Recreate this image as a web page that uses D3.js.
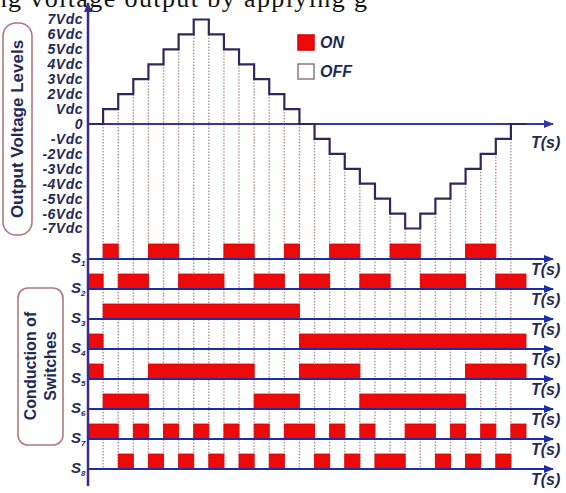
<!DOCTYPE html>
<html>
<head>
<meta charset="utf-8">
<script src="https://cdn.jsdelivr.net/npm/d3@7"></script>
<style>
  body { margin: 0; background: #fff; }
  svg { display: block; }
  text { font-family: "Liberation Sans", Arial, sans-serif; }
</style>
</head>
<body>
<svg id="chart" width="566" height="493"></svg>
<script>
//
// Data
//

// output level (in Vdc) for each of the 29 time slots
var levels = [0, 1, 2, 3, 4, 5, 6, 7, 6, 5, 4, 3, 2, 1, 0,
  -1, -2, -3, -4, -5, -6, -7, -6, -5, -4, -3, -2, -1, 0];

var voltageTicks = [7, 6, 5, 4, 3, 2, 1, 0, -1, -2, -3, -4, -5, -6, -7];
var voltageLabels = ["7Vdc", "6Vdc", "5Vdc", "4Vdc", "3Vdc", "2Vdc", "Vdc", "0",
  "-Vdc", "-2Vdc", "-3Vdc", "-4Vdc", "-5Vdc", "-6Vdc", "-7Vdc"];

var switchNames = ["1", "2", "3", "4", "5", "6", "7", "8"];

// 1 = ON, 0 = OFF, one entry per time slot
var s1 = [0,1,0,0,1,1,0,0,0,1,1,0,0,1,0,0,1,1,0,0,1,1,0,0,0,1,1,0,0];
var s2 = [1,0,1,1,0,0,1,1,1,0,0,1,1,0,1,1,0,0,1,1,0,0,1,1,1,0,0,1,1];
var s3 = [0,1,1,1,1,1,1,1,1,1,1,1,1,1,0,0,0,0,0,0,0,0,0,0,0,0,0,0,0];
var s4 = [1,0,0,0,0,0,0,0,0,0,0,0,0,0,1,1,1,1,1,1,1,1,1,1,1,1,1,1,1];
var s5 = [1,0,0,0,1,1,1,1,1,1,1,0,0,0,1,1,1,1,0,0,0,0,0,0,0,1,1,1,1];
var s6 = [0,1,1,1,0,0,0,0,0,0,0,1,1,1,0,0,0,0,1,1,1,1,1,1,1,0,0,0,0];
var s7 = [1,1,0,1,0,1,0,1,0,1,0,1,0,1,1,0,1,0,1,0,0,1,1,0,1,0,1,0,1];
var s8 = [0,0,1,0,1,0,1,0,1,0,1,0,1,0,0,1,0,1,0,1,1,0,0,1,0,1,0,1,0];
var switches = [s1, s2, s3, s4, s5, s6, s7, s8];

var legendItems = ["ON", "OFF"];

//
// Scales
//

var navy = "#1f2a55";
var svg = d3.select("#chart");

var x = d3.scaleLinear().domain([0, levels.length]).range([88, 526]);
var yV = d3.scaleLinear().domain([-7, 7]).range([228.5, 19.5]);
var row = d3.scaleLinear().domain([0, switches.length - 1]).range([259, 469]);
var pulseH = (row(1) - row(0)) * 0.5;

// arrow heads
var defs = svg.append("defs");
function mkarrow(id, color) {
  defs.append("marker")
    .attr("id", id)
    .attr("viewBox", "0 0 10 8")
    .attr("refX", 9).attr("refY", 4)
    .attr("markerWidth", 10).attr("markerHeight", 8)
    .attr("markerUnits", "userSpaceOnUse")
    .attr("orient", "auto")
    .append("path")
    .attr("d", "M0,0L10,4L0,8z")
    .attr("fill", color);
}
mkarrow("arr-v", "#3a2a8c");
mkarrow("arr-t", "#3535a8");
mkarrow("arr-s", "#1c2ea6");

//
// Caption line of the page, cut by the top edge like in the scan
//

svg.append("text")
  .attr("x", -15).attr("y", 7)
  .attr("textLength", 382)
  .attr("lengthAdjust", "spacing")
  .style("font-family", "'Liberation Serif', 'Times New Roman', serif")
  .style("font-size", "26px")
  .attr("fill", "#111")
  .text("ing voltage output by applying g");

//
// Vertical dotted guides (from the waveform down to the last switch axis)
//

var bounds = d3.range(1, levels.length);
svg.append("g")
  .selectAll("line")
  .data(bounds)
  .enter()
  .append("line")
  .attr("x1", (d) => x(d)).attr("x2", (d) => x(d))
  .attr("y1", (d) => yV(Math.min(levels[d - 1], levels[d])))
  .attr("y2", row(switches.length - 1))
  .attr("stroke", "#b49292")
  .attr("stroke-width", 1.4)
  .attr("stroke-dasharray", "1.5,1.5");

//
// Switch pulses
//

function runs(states) {
  var out = [];
  var start = null;
  states.forEach((s, i) => {
    if (s && start === null) start = i;
    if (!s && start !== null) { out.push([start, i]); start = null; }
  });
  if (start !== null) out.push([start, states.length]);
  return out;
}

switches.forEach((states, i) => {
  svg.append("g")
    .selectAll("rect")
    .data(runs(states))
    .enter()
    .append("rect")
    .attr("x", (d) => x(d[0]))
    .attr("y", row(i) - pulseH)
    .attr("width", (d) => x(d[1]) - x(d[0]))
    .attr("height", pulseH)
    .attr("fill", "#ec0a0a")
    .attr("stroke", "#d80000")
    .attr("stroke-width", 0.8);
});

// switch time axes
svg.append("g")
  .selectAll("line")
  .data(switches)
  .enter()
  .append("line")
  .attr("x1", x(0)).attr("x2", 553)
  .attr("y1", (d, i) => row(i)).attr("y2", (d, i) => row(i))
  .attr("stroke", "#1c2ea6")
  .attr("stroke-width", 2)
  .attr("marker-end", "url(#arr-s)");

// switch labels
var sl = svg.append("g")
  .selectAll("text")
  .data(switchNames)
  .enter()
  .append("text")
  .attr("x", 71)
  .attr("y", (d, i) => row(i) + 4)
  .attr("fill", navy)
  .style("font-size", "15px")
  .style("font-weight", "bold")
  .style("font-style", "italic");
sl.append("tspan").text("S");
sl.append("tspan").attr("dy", 3).style("font-size", "8px").text((d) => d);

// T(s) labels for switch rows
svg.append("g")
  .selectAll("text")
  .data(switches)
  .enter()
  .append("text")
  .attr("x", 531)
  .attr("y", (d, i) => row(i) + 16)
  .attr("fill", navy)
  .style("font-size", "16px")
  .style("font-weight", "bold")
  .style("font-style", "italic")
  .text("T(s)");

//
// Output voltage waveform
//

svg.append("line")
  .attr("x1", x(0)).attr("x2", 553)
  .attr("y1", yV(0)).attr("y2", yV(0))
  .attr("stroke", "#3535a8")
  .attr("stroke-width", 2)
  .attr("marker-end", "url(#arr-t)");

svg.append("text")
  .attr("x", 531).attr("y", yV(0) + 24)
  .attr("fill", navy)
  .style("font-size", "16px")
  .style("font-weight", "bold")
  .style("font-style", "italic")
  .text("T(s)");

var steps = levels.map((v, i) => [i, v]).concat([[levels.length, 0]]);
svg.append("path")
  .datum(steps)
  .attr("fill", "none")
  .attr("stroke", "#2c2a5c")
  .attr("stroke-width", 2.2)
  .attr("d", d3.line()
    .x((d) => x(d[0]))
    .y((d) => yV(d[1]))
    .curve(d3.curveStepAfter));

// level labels
var yAxis = svg.append("g")
  .attr("transform", "translate(" + x(0) + ",0)")
  .call(d3.axisLeft(yV)
    .tickValues(voltageTicks)
    .tickFormat((d, i) => voltageLabels[i])
    .tickSize(0)
    .tickPadding(5));
yAxis.select(".domain").remove();
yAxis.selectAll("text")
  .attr("fill", navy)
  .style("font-family", "'Liberation Sans', Arial, sans-serif")
  .style("font-size", "14px")
  .style("letter-spacing", "0.5px")
  .style("font-weight", "bold")
  .style("font-style", "italic");

// vertical axis with arrow
svg.append("line")
  .attr("x1", x(0)).attr("x2", x(0))
  .attr("y1", 486).attr("y2", 3)
  .attr("stroke", "#3a2a8c")
  .attr("stroke-width", 2.5)
  .attr("marker-end", "url(#arr-v)");

//
// Side titles in rounded boxes
//

svg.append("rect")
  .attr("x", 3).attr("y", 23).attr("width", 29).attr("height", 212)
  .attr("rx", 13)
  .attr("fill", "none").attr("stroke", "#b07a7a").attr("stroke-width", 1.6);
svg.append("text")
  .attr("transform", "translate(23,129) rotate(-90)")
  .attr("text-anchor", "middle")
  .attr("fill", navy)
  .style("font-size", "17px")
  .style("font-weight", "bold")
  .text("Output Voltage Levels");

svg.append("rect")
  .attr("x", 18).attr("y", 288).attr("width", 45).attr("height", 157)
  .attr("rx", 10)
  .attr("fill", "none").attr("stroke", "#b07a7a").attr("stroke-width", 1.6);
svg.append("text")
  .attr("transform", "translate(36,366) rotate(-90)")
  .attr("text-anchor", "middle")
  .attr("fill", navy)
  .style("font-size", "16px")
  .style("font-weight", "bold")
  .text("Conduction of");
svg.append("text")
  .attr("transform", "translate(56,366) rotate(-90)")
  .attr("text-anchor", "middle")
  .attr("fill", navy)
  .style("font-size", "16px")
  .style("font-weight", "bold")
  .text("Switches");

//
// Legend
//

var legend = svg.append("g")
  .selectAll("g")
  .data(legendItems)
  .enter()
  .append("g")
  .attr("transform", (d, i) => "translate(298," + (35 + i * 29) + ")");
legend.append("rect")
  .attr("width", 16).attr("height", 15)
  .attr("fill", (d, i) => (i === 0 ? "#ec0a0a" : "none"))
  .attr("stroke", (d, i) => (i === 0 ? "#d80000" : "#8f7a7a"))
  .attr("stroke-width", 1.5);
legend.append("text")
  .attr("x", 22).attr("y", 13)
  .attr("fill", navy)
  .style("font-size", "16px")
  .style("font-weight", "bold")
  .style("font-style", "italic")
  .text((d) => d);
</script>
</body>
</html>
